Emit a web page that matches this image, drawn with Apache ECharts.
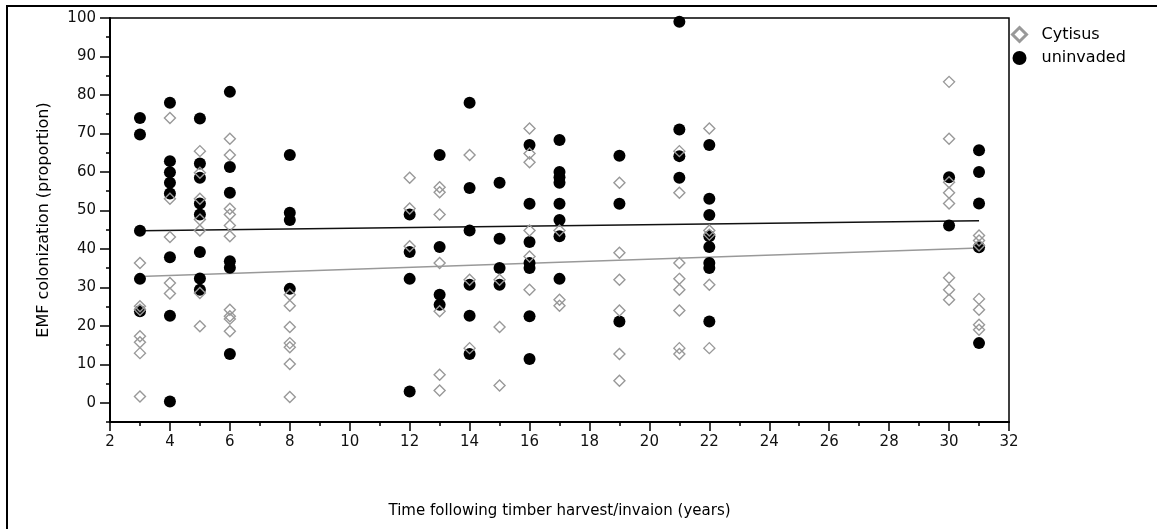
<!DOCTYPE html>
<html>
<head>
<meta charset="utf-8">
<script src="https://cdn.jsdelivr.net/npm/echarts@6/dist/echarts.min.js"></script>
<style>
html,body{margin:0;padding:0;background:#fff;}
#chart{width:1157px;height:529px;}
</style>
</head>
<body>
<div id="chart"></div>
<script>
// ---- data ----
const years = [3, 4, 5, 6, 8, 12, 13, 14, 15, 16, 17, 19, 21, 22, 30, 31];

const cytisusValues = [
  [36.3, 25.1, 24.2, 17.3, 15.7, 12.9, 1.6],
  [74.0, 53.0, 43.1, 31.1, 28.4],
  [65.4, 59.8, 53.0, 47.6, 44.8, 28.5, 19.9],
  [68.6, 64.4, 50.4, 48.9, 46.1, 43.3, 24.2, 22.5, 21.8, 18.6],
  [28.1, 25.2, 19.7, 15.5, 14.4, 10.1, 1.5],
  [58.5, 50.5, 40.7],
  [56.0, 54.7, 48.9, 36.3, 23.8, 7.3, 3.2],
  [64.4, 32.0, 14.2],
  [32.0, 19.7, 4.5],
  [71.3, 64.8, 62.5, 44.8, 38.0, 29.4],
  [44.8, 26.8, 25.2],
  [57.2, 39.0, 32.0, 24.0, 12.7, 5.7],
  [65.4, 54.6, 36.3, 32.2, 29.4, 24.0, 14.2, 12.7],
  [71.3, 44.8, 43.7, 30.7, 14.2],
  [83.4, 68.6, 57.3, 54.6, 51.8, 32.5, 29.4, 26.8],
  [43.5, 42.2, 40.9, 27.0, 24.2, 20.3, 19.0]
];

const uninvadedValues = [
  [74.0, 69.7, 44.7, 32.2, 23.8],
  [78.0, 62.8, 59.9, 57.2, 54.4, 37.8, 22.6, 0.3],
  [73.9, 62.2, 58.5, 51.8, 48.9, 39.2, 32.3, 29.4],
  [80.8, 61.3, 54.6, 36.8, 35.1, 12.7],
  [64.4, 49.4, 47.5, 29.6],
  [48.9, 39.2, 32.2, 2.9],
  [64.4, 40.5, 28.1, 25.5],
  [78.0, 55.8, 44.8, 30.7, 22.6, 12.7],
  [57.2, 42.6, 35.0, 30.7],
  [67.0, 51.7, 41.8, 36.3, 35.0, 22.5, 11.4],
  [68.3, 60.0, 58.6, 57.2, 51.7, 47.5, 43.3, 32.2],
  [64.2, 51.7, 21.1],
  [99.0, 71.0, 64.1, 58.5],
  [67.0, 53.0, 48.8, 43.3, 40.5, 36.3, 35.0, 21.1],
  [58.6, 46.1],
  [65.6, 60.0, 51.8, 40.4, 15.5]
];

// fitted trend lines (endpoints)
const trendX = [3, 31];
const cytisusTrend = [32.8, 40.2];
const uninvadedTrend = [44.7, 47.3];

// y-axis labelled ticks
const yTickLabels = [0, 10, 20, 30, 40, 50, 60, 70, 80, 90, 100];

const seriesNames = ['Cytisus', 'uninvaded'];
const xAxisTitle = 'Time following timber harvest/invaion (years)';
const yAxisTitle = 'EMF colonization (proportion)';

// ---- build pairs ----
function pairs(vals) {
  const out = [];
  years.forEach((yr, i) => vals[i].forEach(v => out.push([yr, v])));
  return out;
}
const trendPairs = ys => trendX.map((x, i) => [x, ys[i]]);

const FONT = 'DejaVu Sans';
const chart = echarts.init(document.getElementById('chart'), null, {renderer: 'canvas'});

chart.setOption({
  animation: false,
  backgroundColor: '#fff',
  textStyle: {fontFamily: FONT},
  grid: {left: 110, right: 148, top: 18, bottom: 107, show: true, borderColor: '#000', borderWidth: 1.5, backgroundColor: 'transparent'},
  legend: {
    orient: 'vertical', left: 1011, top: 26, padding: 0,
    itemWidth: 14, itemHeight: 14, itemGap: 7,
    textStyle: {fontSize: 16, fontFamily: FONT, color: '#000', padding: [0, 0, 0, 10]},
    data: [
      {name: seriesNames[0], icon: 'diamond', itemStyle: {color: '#fff', borderColor: '#999', borderWidth: 3}},
      {name: seriesNames[1], icon: 'circle', itemStyle: {color: '#000', borderWidth: 0}}
    ]
  },
  xAxis: {
    type: 'value', min: 2, max: 32, interval: 2,
    name: xAxisTitle, nameLocation: 'middle', nameGap: 82,
    nameTextStyle: {fontSize: 15, color: '#000', fontFamily: FONT},
    axisLine: {show: true, onZero: false, lineStyle: {color: '#000', width: 2}},
    axisTick: {show: true, length: 9, lineStyle: {color: '#000', width: 1.5}},
    minorTick: {show: true, splitNumber: 2, length: 4, lineStyle: {color: '#000', width: 1.5}},
    axisLabel: {fontSize: 15, color: '#111', margin: 13, fontFamily: FONT},
    splitLine: {show: false}
  },
  yAxis: [
    {
      type: 'value', min: -5, max: 100, interval: 5,
      name: yAxisTitle, nameLocation: 'middle', nameGap: 58,
      nameTextStyle: {fontSize: 16, color: '#000', fontFamily: FONT},
      axisLine: {show: true, onZero: false, lineStyle: {color: '#000', width: 2}},
      axisTick: {show: true, length: 10, customValues: yTickLabels, lineStyle: {color: '#000', width: 1.5}},
      axisLabel: {fontSize: 15, color: '#111', margin: 14, fontFamily: FONT, customValues: yTickLabels},
      splitLine: {show: false}
    },
    {
      // minor ticks every 5
      type: 'value', min: -5, max: 100, interval: 5, position: 'left',
      axisLine: {show: false, onZero: false},
      axisTick: {show: true, length: 4, lineStyle: {color: '#000', width: 1.5}},
      axisLabel: {show: false},
      splitLine: {show: false}
    }
  ],
  graphic: [
    {type: 'rect', silent: true, z: -1,
      shape: {x: 7, y: 6, width: 1300, height: 700},
      style: {fill: 'none', stroke: '#000', lineWidth: 2}}
  ],
  series: [
    {
      name: 'uninvadedTrend', type: 'line', data: trendPairs(uninvadedTrend),
      symbol: 'none', z: 1, silent: true,
      lineStyle: {color: '#111', width: 1.5}
    },
    {
      name: 'cytisusTrend', type: 'line', data: trendPairs(cytisusTrend),
      symbol: 'none', z: 1, silent: true,
      lineStyle: {color: '#999', width: 1.5}
    },
    {
      name: seriesNames[1], type: 'scatter', data: pairs(uninvadedValues),
      symbol: 'circle', symbolSize: 12, z: 2,
      itemStyle: {color: '#000', opacity: 1}
    },
    {
      name: seriesNames[0], type: 'scatter', data: pairs(cytisusValues),
      symbol: 'diamond', symbolSize: 11, z: 3,
      itemStyle: {color: 'rgba(255,255,255,0)', borderColor: '#999', borderWidth: 1.4, opacity: 1}
    }
  ]
});
</script>
</body>
</html>
